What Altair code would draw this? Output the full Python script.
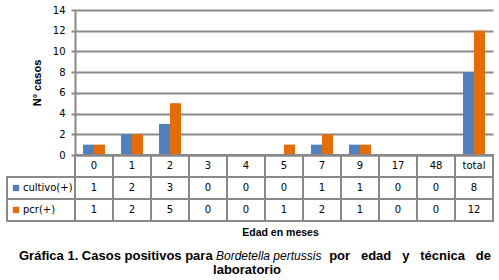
import altair as alt
import pandas as pd

# ---- data ----
categories = ["0", "1", "2", "3", "4", "5", "7", "9", "17", "48", "total"]
cultivo = [1, 2, 3, 0, 0, 0, 1, 1, 0, 0, 8]
pcr = [1, 2, 5, 0, 0, 1, 2, 1, 0, 0, 12]
series_names = ["cultivo(+)", "pcr(+)"]
series_colors = ["#4F81BD", "#E46C0A"]
y_ticks = [0, 2, 4, 6, 8, 10, 12, 14]
header_row = "Edad"
row_names = [header_row, "cultivo(+)", "pcr(+)"]
x_title = "Edad en meses"
y_title = "N° casos"
caption_1a = "Gráfica 1. Casos positivos para"
caption_1b = "Bordetella pertussis"
caption_1c = "por\u00a0\u00a0\u00a0edad\u00a0\u00a0\u00a0y\u00a0\u00a0\u00a0técnica\u00a0\u00a0\u00a0de"
caption_2 = "laboratorio"

# ---- tables built from the lists ----
bar_rows = []
for s, vals in zip(series_names, [cultivo, pcr]):
    for c, v in zip(categories, vals):
        bar_rows.append({"category": c, "series": s, "value": v})
bar_df = pd.DataFrame(bar_rows)

cell_rows = []
for c in categories:
    cell_rows.append({"category": c, "row": header_row, "label": c})
for s, vals in zip(series_names, [cultivo, pcr]):
    for c, v in zip(categories, vals):
        cell_rows.append({"category": c, "row": s, "label": str(v)})
cell_df = pd.DataFrame(cell_rows)
legend_df = pd.DataFrame({"row": series_names, "series": series_names})

W, H = 418, 145
TABLE_BOTTOM = 211
GRAY = "#898989"
FONT = "DejaVu Sans"
BFONT = "Liberation Sans"

x_scale = alt.Scale(domain=categories, paddingInner=0, paddingOuter=0)
row_scale = alt.Scale(domain=row_names, range=[H, TABLE_BOTTOM], paddingInner=0, paddingOuter=0)
color_scale = alt.Scale(domain=series_names, range=series_colors)

x_axis = alt.Axis(title=x_title, labels=False, ticks=False, grid=False,
                  domainColor=GRAY, domainWidth=2,
                  titleFont=BFONT, titleFontSize=10.5, titleFontWeight="bold",
                  titleColor="#000", titleX=205, titleY=77, titleBaseline="middle",
                  titleAlign="center")

bars = alt.Chart(bar_df).mark_bar().encode(
    x=alt.X("category:N", scale=x_scale, sort=categories, axis=x_axis),
    xOffset=alt.XOffset("series:N", scale=alt.Scale(domain=series_names, paddingOuter=0.73, paddingInner=0)),
    y=alt.Y("value:Q", scale=alt.Scale(domain=[0, 14]),
            axis=alt.Axis(values=y_ticks, title=y_title, grid=True, gridColor=GRAY, gridWidth=2,
                          domainColor=GRAY, domainWidth=2, tickColor=GRAY, tickWidth=2, tickSize=4,
                          labelFont=FONT, labelFontSize=10, labelColor="#000", labelPadding=6,
                          titleFont=BFONT, titleFontSize=11, titleFontWeight="bold", titleColor="#000",
                          titlePadding=10)),
    color=alt.Color("series:N", scale=color_scale, legend=None),
)

cells = alt.Chart(cell_df).mark_rect(fill="white", fillOpacity=0, stroke=GRAY, strokeWidth=2).encode(
    x=alt.X("category:N", scale=x_scale, sort=categories, axis=x_axis),
    y=alt.Y("row:N", scale=row_scale, axis=None),
)

legend_cells = alt.Chart(legend_df).mark_rect(fill="white", fillOpacity=0, stroke=GRAY, strokeWidth=2).encode(
    x=alt.value(-68), x2=alt.value(0),
    y=alt.Y("row:N", scale=row_scale, axis=None),
)

cell_text = alt.Chart(cell_df).mark_text(font=FONT, fontSize=10, color="#000").encode(
    x=alt.X("category:N", scale=x_scale, sort=categories, axis=x_axis, bandPosition=0.5),
    y=alt.Y("row:N", scale=row_scale, axis=None, bandPosition=0.5),
    text="label:N",
)

legend_sq = alt.Chart(legend_df).mark_square(size=40, opacity=1, filled=True).encode(
    x=alt.value(-59),
    y=alt.Y("row:N", scale=row_scale, axis=None, bandPosition=0.5),
    color=alt.Color("series:N", scale=color_scale, legend=None),
)

legend_txt = alt.Chart(legend_df).mark_text(font=FONT, fontSize=10, color="#000", align="left").encode(
    x=alt.value(-52),
    y=alt.Y("row:N", scale=row_scale, axis=None, bandPosition=0.5),
    text="series:N",
)


def caption(t, x, y, align, italic=False, bold=True, size=13):
    return alt.Chart(pd.DataFrame({"t": [t]})).mark_text(
        font=BFONT, fontSize=size, fontWeight="bold" if bold else "normal",
        fontStyle="italic" if italic else "normal", color="#000",
        align=align, baseline="alphabetic",
    ).encode(text="t:N", x=alt.value(x), y=alt.value(y))


cap = (caption(caption_1a, -56, 250, "left")
       + caption(caption_1b, 141, 250, "left", italic=True, bold=False, size=12)
       + caption(caption_1c, 416, 250, "right")
       + caption(caption_2, 172, 264, "center"))

chart = alt.layer(bars, cells, legend_cells, cell_text, legend_sq, legend_txt, cap).resolve_scale(
    y="independent"
).properties(
    width=W, height=H,
    autosize=alt.AutoSizeParams(type="none"),
    padding={"left": 75, "top": 10, "right": 6, "bottom": 125},
    background="white",
).configure_view(strokeWidth=0)

chart.save("out.html", embed_options={"renderer": "svg", "actions": False})
